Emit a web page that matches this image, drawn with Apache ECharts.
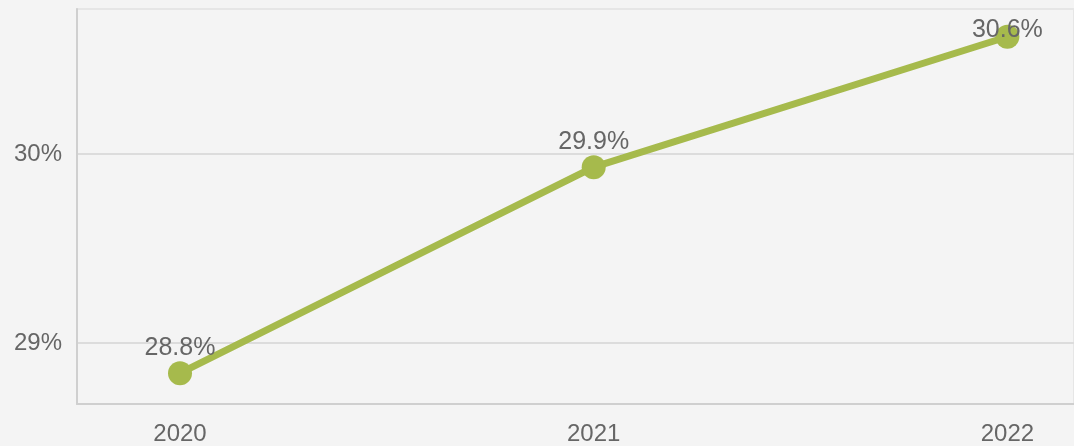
<!DOCTYPE html>
<html>
<head>
<meta charset="utf-8">
<script src="https://cdn.jsdelivr.net/npm/echarts@6/dist/echarts.min.js"></script>
<style>
html,body{margin:0;padding:0;background:#f4f4f4;}
#chart{width:1074px;height:446px;}
</style>
</head>
<body>
<div id="chart"></div>
<script>
var years = [2020, 2021, 2022];
var shares = [28.84, 29.93, 30.62];
var yTicks = [29, 30];

var chart = echarts.init(document.getElementById('chart'), null, {renderer: 'canvas'});
var data = years.map(function (y, i) {
  var item = { value: [y, shares[i]] };
  if (i === years.length - 1) {
    item.label = { offset: [0, 19] };
  }
  return item;
});
chart.setOption({
  backgroundColor: '#f4f4f4',
  animation: false,
  grid: {
    left: 77, right: 0, top: 9, bottom: 42,
    show: true, borderColor: '#e6e6e6', borderWidth: 2, backgroundColor: 'transparent'
  },
  xAxis: {
    type: 'value',
    min: 2019.751,
    max: 2022.161,
    axisLine: { show: true, lineStyle: { color: '#cfcfcf', width: 2 } },
    axisTick: { show: false, customValues: years },
    splitLine: { show: false },
    axisLabel: {
      customValues: years,
      color: '#666', fontSize: 24, fontFamily: 'Liberation Sans, Arial, sans-serif',
      margin: 18,
      formatter: function (v) { return String(v); }
    }
  },
  yAxis: {
    type: 'value',
    min: 28.677,
    max: 30.767,
    axisLine: { show: true, lineStyle: { color: '#cfcfcf', width: 2 } },
    axisTick: { show: false, customValues: yTicks },
    splitLine: { show: true, lineStyle: { color: '#dcdcdc', width: 2 } },
    axisLabel: {
      customValues: yTicks,
      color: '#666', fontSize: 24, fontFamily: 'Liberation Sans, Arial, sans-serif',
      margin: 15,
      padding: [4, 0, 0, 0],
      formatter: function (v) { return v + '%'; }
    }
  },
  series: [{
    type: 'line',
    data: data,
    symbol: 'circle',
    symbolSize: 24,
    itemStyle: { color: '#a6ba4c' },
    lineStyle: { color: '#a6ba4c', width: 7 },
    label: {
      show: true,
      position: 'top',
      distance: 1,
      color: '#666',
      fontSize: 25,
      fontFamily: 'Liberation Sans, Arial, sans-serif',
      formatter: function (p) { return p.value[1].toFixed(1) + '%'; }
    }
  }]
});
</script>
</body>
</html>
